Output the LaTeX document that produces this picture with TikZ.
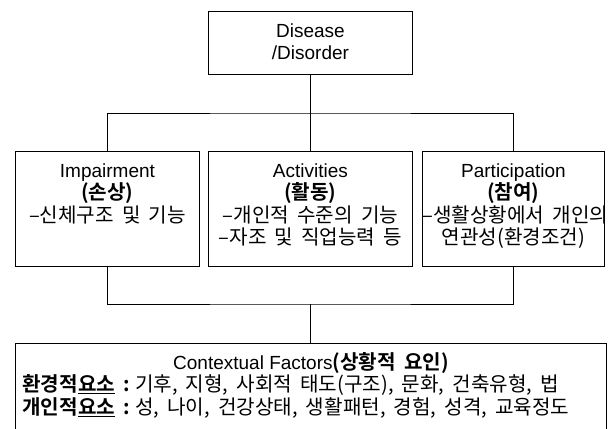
\documentclass[tikz,border=0pt]{standalone}
\usepackage{fontspec}
\setmainfont{Liberation Sans}
\newfontfamily\krfont{Noto Sans CJK KR}[BoldFont={Noto Sans CJK KR Bold}, Scale=1.06, WordSpace=1.8]
\usepackage{tikz}
\usetikzlibrary{calc}

\newcommand\kr[1]{\mbox{\krfont #1}}
\newcommand\krb[1]{\mbox{\krfont\bfseries #1}}
\newcommand\cellbox[3]{\parbox[c][#2][t]{#1}{\centering\rule{0pt}{26pt}#3}}

\begin{document}
\begin{tikzpicture}
  [
    x = 1pt, y = -1pt, line width = 0.9pt,
    every node/.style = {draw, rectangle, inner sep = 0pt,
      font = \fontsize{19}{22.5}\selectfont}
  ]
  \clip (0, 0) rectangle (612, 428);
  \node (dis) [anchor = north west] at (208, 11)
    {\cellbox{204pt}{63pt}{Disease\\/Disorder}};
  \node (imp) [anchor = north west] at (15, 151)
    {\cellbox{184pt}{115pt}{Impairment\\\krb{(손상)}\\\kr{–신체구조 및 기능}}};
  \node (act) [anchor = north west] at (208, 151)
    {\cellbox{204pt}{115pt}{Activities\\\krb{(활동)}\\\kr{–개인적 수준의 기능}\\\kr{–자조 및 직업능력 등}}};
  \node (par) [anchor = north west] at (422, 151)
    {\cellbox{182pt}{115pt}{Participation\\\krb{(참여)}\\\kr{–생활상황에서 개인의}\\\kr{연관성(환경조건)}}};
  \node (ctx) [anchor = north west] at (15, 343)
    {\parbox[c][100pt][t]{591pt}{%
      {\centering\rule{0pt}{26pt}Contextual Factors\krb{(상황적 요인)}\par}%
      {\raggedright\hspace*{7pt}\krb{환경적\underline{요소} :} \kr{기후, 지형, 사회적 태도(구조), 문화, 건축유형, 법}\par
       \hspace*{7pt}\krb{개인적\underline{요소} :} \kr{성, 나이, 건강상태, 생활패턴, 경험, 성격, 교육정도}\par}}};
  % connectors
  \draw (dis.south) -- (act.north);
  \draw (imp.north) |- (310, 113) -| (par.north);
  \draw (imp.south) |- (310, 304) -| (par.south);
  \draw (310, 304) -- (ctx.north -| 310, 304);
\end{tikzpicture}
\end{document}
